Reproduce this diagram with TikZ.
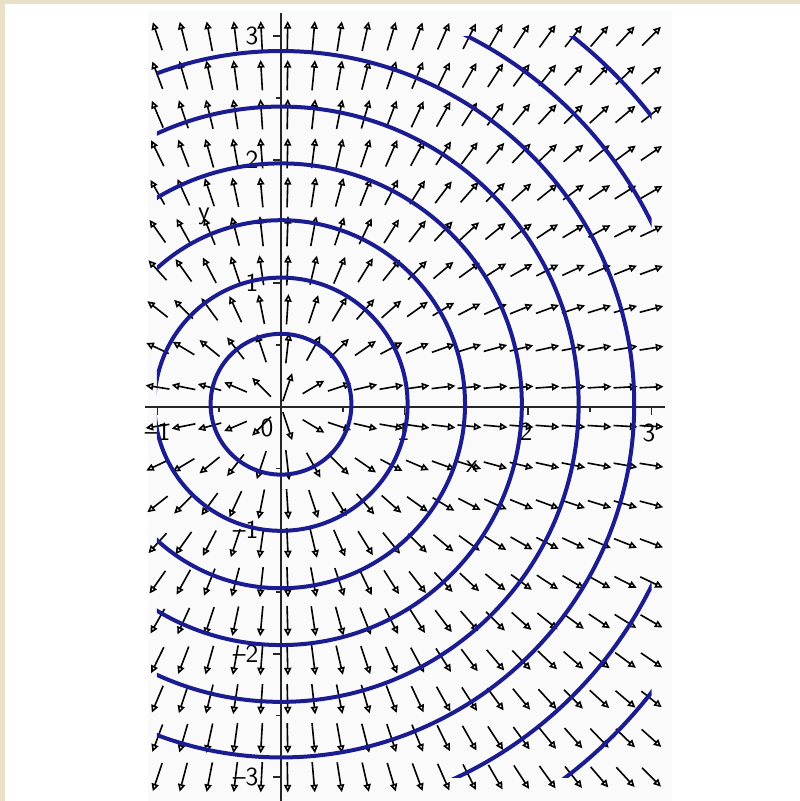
\documentclass[tikz,border=0pt]{standalone}
\usetikzlibrary{arrows.meta}
\definecolor{beige}{RGB}{232,225,199}
\definecolor{curveblue}{RGB}{28,28,145}
\begin{document}
\begin{tikzpicture}[x=61.75pt,y=61.75pt,
  fieldarrow/.style={line width=0.8pt, black, -{Triangle[open,length=3.8pt,width=3.6pt]}},
  levelcurve/.style={curveblue, line width=2pt},
  axisline/.style={line width=1.1pt, black!85},
  tickmark/.style={line width=0.9pt, black!85},
  ticklabel/.style={font=\fontsize{13}{15}\sffamily, inner sep=0pt},
]
\useasboundingbox (-2.2753,-3.1927) rectangle (4.2024,3.2931);
\fill[white] (-2.2753,-3.1927) rectangle (4.2024,3.2931);
\fill[black!2] (-1.077,-3.1927) rectangle (3.166,3.212);
\fill[beige] (-2.2753,3.2607) rectangle (4.2024,3.2931);
\fill[beige] (-2.2753,-3.1927) rectangle (-2.2348,3.2931);

% direction field
\foreach \i in {0,...,19}{
  \foreach \j in {0,...,19}{
    \pgfmathsetmacro\gx{-1+\i*4/19}
    \pgfmathsetmacro\gy{-3+\j*6/19}
    \pgfmathsetmacro\ang{atan2(\gy,\gx)}
    \pgfmathsetmacro\hl{1/sqrt((cos(\ang)/6)^2+(sin(\ang)/7.6)^2)}
    \pgfmathsetmacro\fl{2*\hl}
    \pgfmathsetmacro\back{\ang+180}
    \draw[fieldarrow] (\gx,\gy) ++(\back:\hl pt) -- ++(\ang:\fl pt);
  }
}

% axes
\coordinate (xl) at (-1.101,0);
\coordinate (xr) at (3.109,0);
\coordinate (yb) at (0,-3.1927);
\coordinate (yt) at (0,3.188);
\draw[axisline] (xl) -- (xr);
\draw[axisline] (yb) -- (yt);
\foreach \t in {-1,0,1,2,3}{
  \draw[tickmark] (\t,0) -- ++(0,-0.065);
}
\foreach \t in {-0.5,0.5,1.5,2.5}{
  \draw[tickmark] (\t,0) -- ++(0,-0.04);
}
\foreach \t in {-3,-2,-1,1,2,3}{
  \draw[tickmark] (0,\t) -- ++(-0.065,0);
}
\foreach \t in {-2.5,-1.5,-0.5,0.5,1.5,2.5}{
  \draw[tickmark] (0,\t) -- ++(-0.04,0);
}

% tick labels
\node[ticklabel] (lxm1) at (-1.0,-0.206) {--1};
\node[ticklabel] (lx0) at (-0.113,-0.175) {0};
\node[ticklabel] (lx1) at (0.99,-0.206) {1};
\node[ticklabel] (lx2) at (1.984,-0.206) {2};
\node[ticklabel] (lx3) at (2.98,-0.215) {3};
\node[ticklabel,anchor=east] (ly3) at (-0.18,3.0) {3};
\node[ticklabel,anchor=east] (ly2) at (-0.18,2.0) {2};
\node[ticklabel,anchor=east] (ly1) at (-0.18,1.0) {1};
\node[ticklabel,anchor=east] (lym1) at (-0.18,-1.0) {--1};
\node[ticklabel,anchor=east] (lym2) at (-0.18,-2.0) {--2};
\node[ticklabel,anchor=east] (lym3) at (-0.18,-3.0) {--3};
\node[ticklabel] (labx) at (1.547,-0.486) {x};
\node[ticklabel] (laby) at (-0.623,1.544) {y};

% level curves
\begin{scope}
  \clip (-1.005,-3.0) rectangle (3.0,3.0);
  \foreach \r in {0.57,1.025,1.49,1.95,2.41,2.86,3.34,3.80}{
    \draw[levelcurve] (0,0.02) circle[radius=\r];
  }
\end{scope}
\end{tikzpicture}
\end{document}
